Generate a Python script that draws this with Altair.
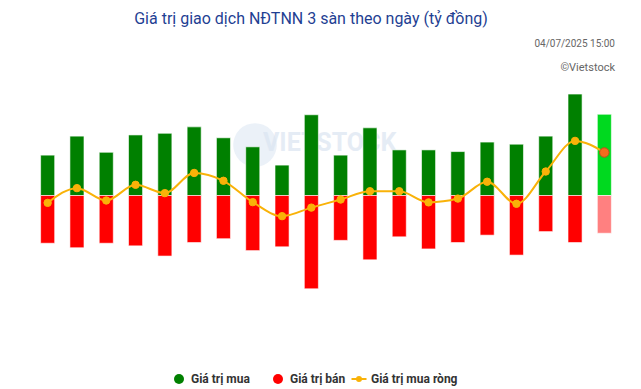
import altair as alt
import pandas as pd

# ---- data ----
dates = ["09/06", "10/06", "11/06", "12/06", "13/06", "16/06", "17/06", "18/06", "19/06", "20/06",
         "23/06", "24/06", "25/06", "26/06", "27/06", "30/06", "01/07", "02/07", "03/07", "04/07"]
buy = [1700, 2500, 1820, 2550, 2620, 2890, 2430, 2050, 1280, 3400,
       1700, 2850, 1920, 1920, 1850, 2250, 2160, 2500, 4270, 3420]
sell = [-2010, -2200, -2010, -2120, -2550, -1980, -1820, -2320, -2160, -3930,
        -1890, -2710, -1740, -2250, -1980, -1670, -2510, -1520, -1980, -1590]
net = [-310, 310, -210, 450, 100, 950, 620, -280, -870, -510,
       -170, 180, 180, -290, -130, 580, -350, 1010, 2300, 1810]
tick_labels = ["09/06", "11/06", "13/06", "17/06", "19/06", "23/06", "25/06", "27/06", "01/07", "03/07"]
y_ticks = [-6000, -4000, -2000, 0, 2000, 4000, 6000]
series_names = ["Giá trị mua", "Giá trị bán", "Giá trị mua ròng"]
series_colors = ["#008000", "#ff0000", "#f9b208"]
last_colors = ["#00d91f", "#ff8080", "#f26b1d"]
title_text = "Giá trị giao dịch NĐTNN 3 sàn theo ngày (tỷ đồng)"
stamp_text = "04/07/2025 15:00"
credit_text = "©Vietstock"
last_day = dates[-1]

bars_df = pd.DataFrame({
    "date": dates + dates,
    "value": buy + sell,
    "series": [series_names[0]] * len(dates) + [series_names[1]] * len(dates),
})
net_df = pd.DataFrame({"date": dates, "value": net, "series": [series_names[2]] * len(dates)})

FONT = "Roboto"

x_scale = alt.Scale(paddingInner=0.52, paddingOuter=0.26)
y_scale = alt.Scale(domain=[-6000, 6000], nice=False)

x_enc = alt.X("date:N", sort=dates, scale=x_scale,
              axis=alt.Axis(values=tick_labels, title=None, labelAngle=0, ticks=False,
                            domain=True, domainColor="#ccd6eb", labelColor="#666666",
                            labelFontSize=11, labelPadding=8, grid=False, labelFont=FONT))
y_enc = alt.Y("value:Q", scale=y_scale,
              axis=alt.Axis(values=y_ticks, title=None,
                            labelExpr="datum.value == 0 ? '0' : (datum.value/1000) + 'k'",
                            ticks=False, domain=False, gridColor="#e6e6e6",
                            labelColor="#666666", labelFontSize=11, labelPadding=9,
                            labelFont=FONT))
x_plain = alt.X("date:N", sort=dates, scale=x_scale, axis=None)
y_plain = alt.Y("value:Q", scale=y_scale, axis=None)

legend_common = dict(title=None, orient="none", direction="horizontal", labelFontSize=12,
                     labelFontWeight="bold", labelColor="#333333", labelFont=FONT,
                     columnPadding=22, labelOffset=6, padding=0)

bar_legend = alt.Legend(legendX=140, legendY=320, symbolType="circle", symbolSize=100,
                        symbolStrokeWidth=0, symbolOpacity=1, **legend_common)
line_legend = alt.Legend(legendX=320, legendY=320,
                         symbolType="M-1.5,0H1.5M-0.4,0A0.4,0.4 0 1 1 0.4,0A0.4,0.4 0 1 1 -0.4,0",
                         symbolSize=100, symbolStrokeWidth=2, symbolFillColor=series_colors[2],
                         symbolStrokeColor=series_colors[2], symbolOpacity=1, **legend_common)

bars = alt.Chart(bars_df).mark_bar(stroke="white", strokeWidth=0.6).encode(
    x=x_enc, y=y_enc,
    color=alt.Color("series:N",
                    scale=alt.Scale(domain=series_names[:2], range=series_colors[:2]),
                    legend=bar_legend,
                    condition=[
                        {"test": f"datum.date === '{last_day}' && datum.series === '{series_names[0]}'",
                         "value": last_colors[0]},
                        {"test": f"datum.date === '{last_day}' && datum.series === '{series_names[1]}'",
                         "value": last_colors[1]},
                    ]),
)

line = alt.Chart(net_df).mark_line(interpolate="monotone", strokeWidth=2).encode(
    x=x_plain, y=y_plain,
    stroke=alt.Stroke("series:N",
                      scale=alt.Scale(domain=series_names[2:], range=series_colors[2:]),
                      legend=line_legend),
)

is_last = f"datum.date === '{last_day}'"
points = alt.Chart(net_df).mark_point(filled=True, shape="circle", opacity=1, strokeWidth=1).encode(
    x=x_plain, y=y_plain,
    fill=alt.condition(is_last, alt.value(last_colors[2]), alt.value(series_colors[2])),
    stroke=alt.condition(is_last, alt.value("#b8501c"), alt.value(series_colors[2])),
    size=alt.condition(is_last, alt.value(90), alt.value(55)),
)

watermark = alt.Chart(pd.DataFrame({"t": ["VIETSTOCK"]})).mark_text(
    font=FONT, fontSize=25, fontWeight="bold", color="#dbe5f1", opacity=0.7, align="left",
    baseline="middle").encode(text="t:N", x=alt.value(230), y=alt.value(90))
wm_circle = alt.Chart(pd.DataFrame({"t": ["o"]})).mark_point(
    shape="circle", filled=True, color="#e3ebf5", opacity=0.7, size=1900).encode(
    x=alt.value(222), y=alt.value(92))

title = alt.Chart(pd.DataFrame({"t": [title_text]})).mark_text(
    font=FONT, fontSize=16, color="#1f3f93", align="center", baseline="middle").encode(
    text="t:N", x=alt.value(278), y=alt.value(-34))
stamp = alt.Chart(pd.DataFrame({"t": [stamp_text]})).mark_text(
    font=FONT, fontSize=10, color="#666666", align="right", baseline="middle").encode(
    text="t:N", x=alt.value(582), y=alt.value(-9))
credit = alt.Chart(pd.DataFrame({"t": [credit_text]})).mark_text(
    font=FONT, fontSize=11, color="#666666", align="right", baseline="middle").encode(
    text="t:N", x=alt.value(582), y=alt.value(15))

chart = alt.layer(wm_circle, watermark, bars, line, points, title, stamp, credit).resolve_scale(
    color="independent", stroke="independent"
).properties(
    width=586, height=285,
    autosize=alt.AutoSizeParams(type="none"),
    padding={"left": 25, "top": 45, "right": 10, "bottom": 48},
).configure(
    font=FONT,
    view=alt.ViewConfig(stroke="transparent", strokeWidth=0),
    style={"cell": {"stroke": "transparent", "strokeWidth": 0}},
    axis=alt.AxisConfig(domain=False, ticks=False),
    axisLeft=alt.AxisConfig(domain=False, ticks=False),
    axisQuantitative=alt.AxisConfig(domain=False),
    axisX=alt.AxisConfig(grid=False, ticks=False),
    axisBand=alt.AxisConfig(grid=False),
)

chart.save("out.html", embed_options={"renderer": "svg", "actions": False})
